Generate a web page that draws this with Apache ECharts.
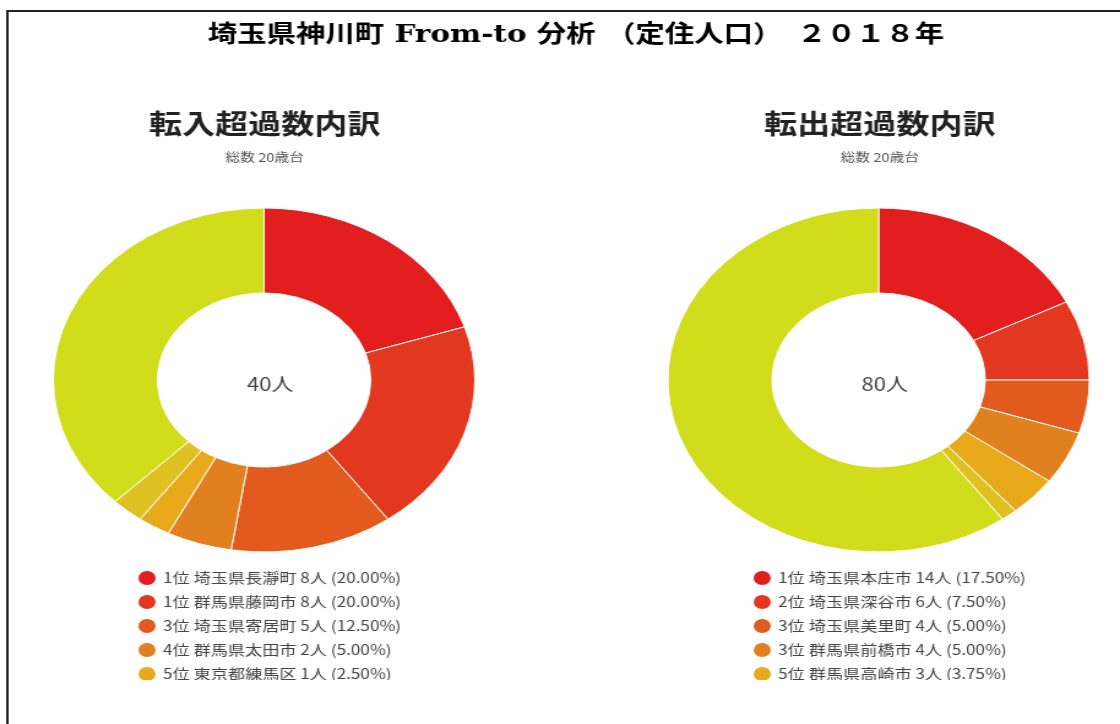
<!DOCTYPE html>
<html>
<head>
<meta charset="utf-8">
<script src="https://cdn.jsdelivr.net/npm/echarts@6/dist/echarts.min.js"></script>
<style>
html,body{margin:0;padding:0;background:#fff;overflow:hidden;width:1120px;height:724px;}
#wrap{width:914px;height:724px;transform:scaleX(1.2254);transform-origin:0 0;}
</style>
</head>
<body>
<div id="wrap"></div>
<script>
// ---- data ----
const mainTitle = '埼玉県神川町 From-to 分析 （定住人口）　２０１８年';
const inTitle = '転入超過数内訳';
const outTitle = '転出超過数内訳';
const subTitle = '総数 20歳台';

const inRanks  = ['1位', '1位', '3位', '4位', '5位', '5位', ''];
const inNames  = ['埼玉県長瀞町', '群馬県藤岡市', '埼玉県寄居町', '群馬県太田市', '東京都練馬区', '5位（同数）', 'その他'];
const inValues = [8, 8, 5, 2, 1, 1, 15];

const outRanks  = ['1位', '2位', '3位', '3位', '5位', '6位', ''];
const outNames  = ['埼玉県本庄市', '埼玉県深谷市', '埼玉県美里町', '群馬県前橋市', '群馬県高崎市', '6位', 'その他'];
const outValues = [14, 6, 4, 4, 3, 1, 48];

const palette = ['#e31e1e', '#e2381f', '#e35a1f', '#e0801f', '#e8aa1a', '#dfc122', '#d1dc1b'];

// ---- helpers ----
const sum = a => a.reduce((x, y) => x + y, 0);
const inTotal = sum(inValues), outTotal = sum(outValues);
function legendText(names, ranks, values, total) {
  return function (name) {
    const i = names.indexOf(name);
    const pct = (values[i] / total * 100).toFixed(2);
    return (ranks[i] ? ranks[i] + ' ' : '') + name + ' ' + values[i] + '人 (' + pct + '%)';
  };
}
const cjk = '"Noto Sans CJK JP", "Noto Sans", sans-serif';

const chart = echarts.init(document.getElementById('wrap'), null, {renderer: 'canvas'});

function legendCfg(left, names, ranks, values, total) {
  return {
    type: 'scroll', orient: 'vertical', left: left, top: 564, height: 112,
    itemWidth: 16, itemHeight: 16, itemGap: 6, icon: 'circle',
    textStyle: {fontSize: 14, color: '#444', fontFamily: cjk},
    pageIconSize: 1, pageIconColor: 'rgba(0,0,0,0)', pageIconInactiveColor: 'rgba(0,0,0,0)',
    pageTextStyle: {color: 'rgba(0,0,0,0)', fontSize: 1}, pageButtonGap: 0, pageButtonItemGap: 0,
    pageFormatter: '',
    data: names,
    formatter: legendText(names, ranks, values, total)
  };
}

function pieCfg(cx, names, values) {
  return {
    type: 'pie', center: [cx, 380], radius: [87, 172],
    startAngle: 90, clockwise: true, avoidLabelOverlap: false,
    label: {show: false}, labelLine: {show: false},
    emphasis: {disabled: true},
    itemStyle: {borderColor: '#fff', borderWidth: 1},
    data: names.map((n, i) => ({name: n, value: values[i], itemStyle: {color: palette[i]}}))
  };
}

chart.setOption({
  animation: false,
  backgroundColor: '#fff',
  title: [
    {text: mainTitle, left: 465, top: 19, textAlign: 'center',
     textStyle: {fontSize: 24, fontWeight: 'bold', color: '#000', fontFamily: '"DejaVu Serif", "Noto Sans CJK JP", serif'}},
    {text: inTitle, subtext: subTitle, left: 211, top: 105, textAlign: 'center', itemGap: 14,
     textStyle: {fontSize: 27, fontWeight: 'bold', color: '#222', fontFamily: cjk},
     subtextStyle: {fontSize: 12, color: '#555', fontFamily: cjk}},
    {text: outTitle, subtext: subTitle, left: 713, top: 105, textAlign: 'center', itemGap: 14,
     textStyle: {fontSize: 27, fontWeight: 'bold', color: '#222', fontFamily: cjk},
     subtextStyle: {fontSize: 12, color: '#555', fontFamily: cjk}},
    {text: inTotal + '人', left: 215.5, top: 370, textAlign: 'center',
     textStyle: {fontSize: 18, fontWeight: 'normal', color: '#444', fontFamily: cjk}},
    {text: outTotal + '人', left: 717, top: 370, textAlign: 'center',
     textStyle: {fontSize: 18, fontWeight: 'normal', color: '#444', fontFamily: cjk}}
  ],
  legend: [
    legendCfg(106, inNames, inRanks, inValues, inTotal),
    legendCfg(608, outNames, outRanks, outValues, outTotal)
  ],
  graphic: [
    {type: 'rect', z: 100, silent: true,
     shape: {x: 6, y: 11, width: 3000, height: 3000},
     style: {fill: 'none', stroke: '#222', lineWidth: 2}}
  ],
  series: [
    pieCfg(215.5, inNames, inValues),
    pieCfg(717, outNames, outValues)
  ]
});
</script>
</body>
</html>
